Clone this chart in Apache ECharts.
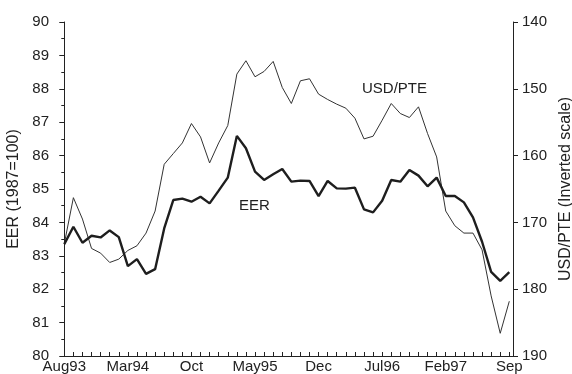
<!DOCTYPE html>
<html>
<head>
<meta charset="utf-8">
<style>
  html, body { margin: 0; padding: 0; background: #fff; }
  #chart { width: 572px; height: 374px; }
</style>
<script src="https://cdn.jsdelivr.net/npm/echarts@6/dist/echarts.min.js"></script>
</head>
<body>
<div id="chart"></div>
<script>
// Monthly observations, Aug93 .. Sep97
const months = [
  'Aug93','Sep93','Oct93','Nov93','Dec93','Jan94','Feb94','Mar94','Apr94','May94',
  'Jun94','Jul94','Aug94','Sep94','Oct94','Nov94','Dec94','Jan95','Feb95','Mar95',
  'Apr95','May95','Jun95','Jul95','Aug95','Sep95','Oct95','Nov95','Dec95','Jan96',
  'Feb96','Mar96','Apr96','May96','Jun96','Jul96','Aug96','Sep96','Oct96','Nov96',
  'Dec96','Jan97','Feb97','Mar97','Apr97','May97','Jun97','Jul97','Aug97','Sep97'
];

// Effective exchange rate index (1987=100)
const eer = [
  83.35, 83.87, 83.39, 83.60, 83.55, 83.76, 83.56, 82.69, 82.90, 82.46,
  82.60, 83.82, 84.67, 84.71, 84.62, 84.77, 84.57, 84.95, 85.34, 86.59,
  86.22, 85.52, 85.27, 85.44, 85.60, 85.22, 85.25, 85.24, 84.79, 85.24,
  85.02, 85.01, 85.04, 84.39, 84.30, 84.65, 85.27, 85.22, 85.57, 85.40,
  85.08, 85.34, 84.79, 84.79, 84.60, 84.15, 83.42, 82.52, 82.25, 82.51
];

// Escudos per US dollar
const usdPte = [
  173.2, 166.3, 169.5, 173.9, 174.6, 176.0, 175.5, 174.2, 173.5, 171.6,
  168.3, 161.3, 159.7, 158.1, 155.2, 157.2, 161.1, 158.1, 155.5, 147.8,
  145.8, 148.2, 147.4, 145.9, 149.8, 152.2, 148.8, 148.5, 150.8, 151.6,
  152.3, 152.9, 154.4, 157.5, 157.1, 154.7, 152.2, 153.7, 154.3, 152.7,
  156.7, 160.2, 168.3, 170.5, 171.6, 171.6, 174.1, 181.0, 186.6, 181.8
];

// Axis tick labels, one every seven months
const tickLabels = ['Aug93', 'Mar94', 'Oct', 'May95', 'Dec', 'Jul96', 'Feb97', 'Sep'];
const tickStep = 7;

const FONT = "'Liberation Sans', Arial, sans-serif";
const INK = '#222';

const monthIdx = months.map((_, i) => i);
const labelIdx = tickLabels.map((_, k) => k * tickStep);

const chart = echarts.init(document.getElementById('chart'), null, { renderer: 'canvas' });

chart.setOption({
  animation: false,
  backgroundColor: '#fff',
  textStyle: { fontFamily: FONT, color: INK },
  grid: {
    left: 61, right: 59, top: 22, bottom: 18,
    containLabel: false,
    outerBoundsMode: 'none'
  },
  xAxis: {
    type: 'value',
    min: -0.363,
    max: 49.407,
    splitLine: { show: false },
    axisLine: { show: true, onZero: false, lineStyle: { color: INK, width: 1 } },
    axisTick: {
      show: true, inside: true, length: 4,
      customValues: monthIdx,
      lineStyle: { color: INK, width: 1 }
    },
    axisLabel: {
      customValues: labelIdx,
      formatter: v => tickLabels[Math.round(v / tickStep)],
      color: INK, fontSize: 15, fontFamily: FONT, margin: 3
    }
  },
  yAxis: [
    {
      type: 'value',
      min: 80, max: 90, interval: 1,
      position: 'left',
      name: 'EER (1987=100)',
      nameLocation: 'middle',
      nameRotate: 90,
      nameGap: 31,
      nameTextStyle: { color: INK, fontSize: 16, fontFamily: FONT },
      splitLine: { show: false },
      axisLine: { show: true, lineStyle: { color: INK, width: 1 } },
      axisTick: { show: true, length: 5, lineStyle: { color: INK } },
      minorTick: { show: true, splitNumber: 2, length: 3, lineStyle: { color: INK } },
      axisLabel: { color: INK, fontSize: 15, fontFamily: FONT, margin: 12 }
    },
    {
      type: 'value',
      min: 140, max: 190, interval: 10,
      inverse: true,
      position: 'right',
      name: 'USD/PTE (Inverted scale)',
      nameLocation: 'middle',
      nameRotate: 90,
      nameGap: 42,
      nameTextStyle: { color: INK, fontSize: 16, fontFamily: FONT },
      splitLine: { show: false },
      axisLine: { show: true, lineStyle: { color: INK, width: 1 } },
      axisTick: { show: true, length: 5, lineStyle: { color: INK } },
      axisLabel: { color: INK, fontSize: 15, fontFamily: FONT, margin: 9 }
    }
  ],
  series: [
    {
      name: 'USD/PTE',
      type: 'line',
      yAxisIndex: 1,
      data: usdPte.map((v, i) => [i, v]),
      showSymbol: false,
      lineStyle: { color: '#333', width: 1 },
      z: 2
    },
    {
      name: 'EER',
      type: 'line',
      yAxisIndex: 0,
      data: eer.map((v, i) => [i, v]),
      showSymbol: false,
      lineStyle: { color: '#1e1e1e', width: 2.4 },
      z: 3
    }
  ],
  graphic: [
    { type: 'text', left: 362, top: 81,
      style: { text: 'USD/PTE', fill: INK, font: '15px ' + FONT } },
    { type: 'text', left: 239, top: 198,
      style: { text: 'EER', fill: INK, font: '15px ' + FONT } }
  ]
});
</script>
</body>
</html>
